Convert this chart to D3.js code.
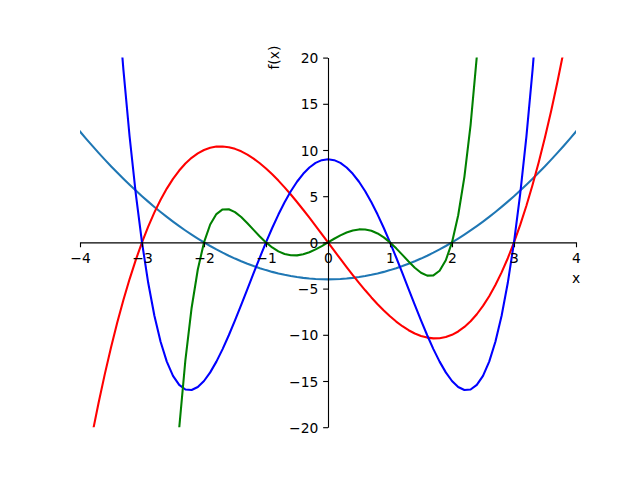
<!DOCTYPE html>
<html><head><meta charset="utf-8">
<script src="https://cdn.jsdelivr.net/npm/d3@7"></script>
<style>body{margin:0;background:#fff}svg{display:block}text{font-family:"DejaVu Sans",sans-serif;font-size:13.89px;fill:#000}</style>
</head><body>
<script>
const xs = [-4.0,-3.9,-3.8,-3.7,-3.6,-3.5,-3.4,-3.3,-3.2,-3.1,-3.0,-2.9,-2.8,-2.7,-2.6,-2.5,-2.4,-2.3,-2.2,-2.1,-2.0,-1.9,-1.8,-1.7,-1.6,-1.5,-1.4,-1.3,-1.2,-1.1,-1.0,-0.9,-0.8,-0.7,-0.6,-0.5,-0.4,-0.3,-0.2,-0.1,0.0,0.1,0.2,0.3,0.4,0.5,0.6,0.7,0.8,0.9,1.0,1.1,1.2,1.3,1.4,1.5,1.6,1.7,1.8,1.9,2.0,2.1,2.2,2.3,2.4,2.5,2.6,2.7,2.8,2.9,3.0,3.1,3.2,3.3,3.4,3.5,3.6,3.7,3.8,3.9,4.0];
const parabola = [12,11.21,10.44,9.69,8.96,8.25,7.56,6.89,6.24,5.61,5,4.41,3.84,3.29,2.76,2.25,1.76,1.29,0.84,0.41,0,-0.39,-0.76,-1.11,-1.44,-1.75,-2.04,-2.31,-2.56,-2.79,-3,-3.19,-3.36,-3.51,-3.64,-3.75,-3.84,-3.91,-3.96,-3.99,-4,-3.99,-3.96,-3.91,-3.84,-3.75,-3.64,-3.51,-3.36,-3.19,-3,-2.79,-2.56,-2.31,-2.04,-1.75,-1.44,-1.11,-0.76,-0.39,0,0.41,0.84,1.29,1.76,2.25,2.76,3.29,3.84,4.41,5,5.61,6.24,6.89,7.56,8.25,8.96,9.69,10.44,11.21,12];
const cubic = [-28,-24.219,-20.672,-17.353,-14.256,-11.375,-8.704,-6.237,-3.968,-1.891,0,1.711,3.248,4.617,5.824,6.875,7.776,8.533,9.152,9.639,10,10.241,10.368,10.387,10.304,10.125,9.856,9.503,9.072,8.569,8,7.371,6.688,5.957,5.184,4.375,3.536,2.673,1.792,0.899,0,-0.899,-1.792,-2.673,-3.536,-4.375,-5.184,-5.957,-6.688,-7.371,-8,-8.569,-9.072,-9.503,-9.856,-10.125,-10.304,-10.387,-10.368,-10.241,-10,-9.639,-9.152,-8.533,-7.776,-6.875,-5.824,-4.617,-3.248,-1.711,0,1.891,3.968,6.237,8.704,11.375,14.256,17.353,20.672,24.219,28];
const quartic = [105,88.244,73.114,59.516,47.362,36.563,27.034,18.692,11.458,5.252,0,-4.372,-7.934,-10.756,-12.902,-14.438,-15.422,-15.916,-15.974,-15.652,-15,-14.068,-12.902,-11.548,-10.046,-8.438,-6.758,-5.044,-3.326,-1.636,0,1.556,3.010,4.340,5.530,6.563,7.426,8.108,8.602,8.900,9,8.900,8.602,8.108,7.426,6.563,5.530,4.340,3.010,1.556,0,-1.636,-3.326,-5.044,-6.758,-8.438,-10.046,-11.548,-12.902,-14.068,-15,-15.652,-15.974,-15.916,-15.422,-14.438,-12.902,-10.756,-7.934,-4.372,0,5.252,11.458,18.692,27.034,36.563,47.362,59.516,73.114,88.244,105];
const quintic = [-720,-621.247,-533.192,-454.975,-385.782,-324.844,-271.434,-224.869,-184.504,-149.737,-120,-94.766,-73.544,-55.874,-41.334,-29.531,-20.106,-12.728,-7.096,-2.936,0,1.934,3.064,3.566,3.594,3.281,2.742,2.072,1.352,0.644,0,-0.545,-0.968,-1.253,-1.398,-1.406,-1.290,-1.067,-0.760,-0.395,0,0.395,0.760,1.067,1.290,1.406,1.398,1.253,0.968,0.545,0,-0.644,-1.352,-2.072,-2.742,-3.281,-3.594,-3.566,-3.064,-1.934,0,2.936,7.096,12.728,20.106,29.531,41.334,55.874,73.544,94.766,120,149.737,184.504,224.869,271.434,324.844,385.782,454.975,533.192,621.247,720];
const seriesColors = ["#1f77b4","#ff0000","#0000ff","#008000"];
const xTicks = [-4,-3,-2,-1,0,1,2,3,4];
const yTicks = [-20,-15,-10,-5,0,5,10,15,20];
const xLabel = "x", yLabel = "f(x)";

const W = 640, H = 480;
const L = 80, R = 576, T = 57.6, B = 427.2;
const svg = d3.select("body").append("svg").attr("width", W).attr("height", H);
const x = d3.scaleLinear().domain([-4, 4]).range([L, R]);
const y = d3.scaleLinear().domain([-20, 20]).range([B, T]);

svg.append("defs").append("clipPath").attr("id", "clip")
  .append("rect").attr("x", L).attr("y", T).attr("width", R - L).attr("height", B - T);

const line = d3.line().x((d, i) => x(xs[i])).y(d => y(d));
const g = svg.append("g").attr("clip-path", "url(#clip)");
[parabola, cubic, quartic, quintic].forEach((s, k) => {
  g.append("path").datum(s).attr("d", line)
    .attr("fill", "none").attr("stroke", seriesColors[k])
    .attr("stroke-width", 2.08).attr("stroke-linejoin", "round").attr("stroke-linecap", "square");
});

const fmt = v => (v < 0 ? "\u2212" + Math.abs(v) : String(v));
const xAxis = d3.axisBottom(x).tickValues(xTicks).tickFormat(fmt).tickSize(4.86).tickPadding(4.86).tickSizeOuter(0);
const yAxis = d3.axisLeft(y).tickValues(yTicks).tickFormat(fmt).tickSize(4.86).tickPadding(4.86).tickSizeOuter(0);

const gx = svg.append("g").attr("transform", `translate(0,${y(0)})`).call(xAxis);
const gy = svg.append("g").attr("transform", `translate(${x(0)},0)`).call(yAxis);
[gx, gy].forEach(a => {
  a.attr("font-family", null).attr("font-size", null);
  a.select(".domain").attr("stroke", "#000").attr("stroke-width", 1.11);
  a.selectAll(".tick line").attr("stroke", "#000").attr("stroke-width", 1.11);
  a.selectAll(".tick text").attr("fill", "#000");
});
gx.selectAll(".tick text").attr("dy", null).attr("y", 20.3);
gy.selectAll(".tick text").attr("dy", null).attr("y", 5);

svg.append("text").attr("x", x(4)).attr("y", 282.5).attr("text-anchor", "middle").text(xLabel);
svg.append("text").attr("transform", `translate(279,${y(20)}) rotate(-90)`).attr("text-anchor", "middle").text(yLabel);
</script>
</body></html>
